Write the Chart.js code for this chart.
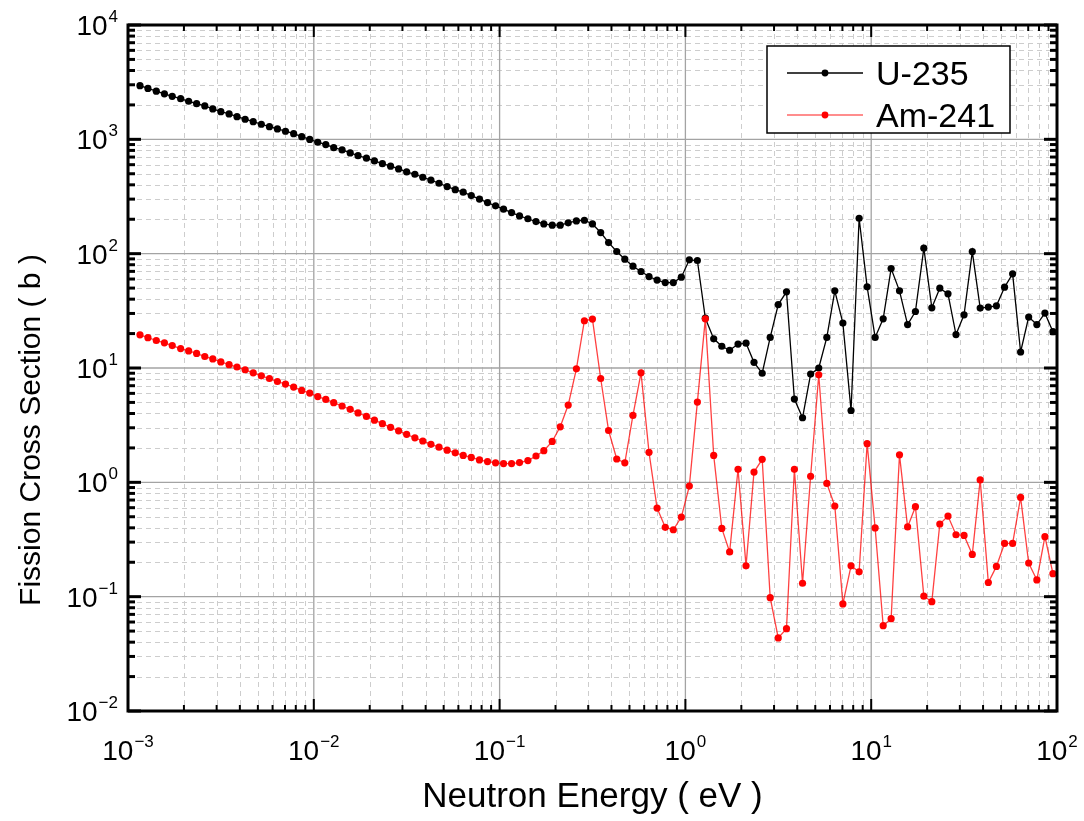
<!DOCTYPE html>
<html>
<head>
<meta charset="utf-8">
<script src="https://cdn.jsdelivr.net/npm/chart.js@4.4.1/dist/chart.umd.min.js"></script>
<style>
  body { margin: 0; background: #fff; }
  #wrap { width: 1084px; height: 821px; position: relative; }
</style>
</head>
<body>
<div id="wrap"><canvas id="chart"></canvas></div>
<script>
const energy = [
  1.16e-3,1.28e-3,1.42e-3,1.57e-3,1.73e-3,1.92e-3,2.12e-3,2.34e-3,2.59e-3,2.86e-3,3.16e-3,3.50e-3,3.86e-3,4.27e-3,4.72e-3,5.22e-3,5.77e-3,6.37e-3,7.04e-3,7.79e-3,8.61e-3,9.51e-3,
  0.0105,0.0116,0.0128,0.0142,0.0157,0.0173,0.0192,0.0212,0.0234,0.0259,0.0286,0.0316,0.0350,0.0386,0.0427,0.0472,0.0522,0.0577,0.0637,0.0704,0.0779,0.0861,0.0951,
  0.105,0.116,0.128,0.142,0.157,0.173,0.192,0.212,0.234,0.259,0.286,0.316,0.350,0.386,0.427,0.472,0.522,0.577,0.637,0.704,0.779,0.861,0.951,
  1.05,1.16,1.28,1.42,1.57,1.73,1.92,2.12,2.34,2.59,2.86,3.16,3.50,3.86,4.27,4.72,5.22,5.77,6.37,7.04,7.79,8.61,9.51,
  10.5,11.6,12.8,14.2,15.7,17.3,19.2,21.2,23.4,25.9,28.6,31.6,35.0,38.6,42.7,47.2,52.2,57.7,63.7,70.4,77.9,86.1,95.1
];

// fission cross sections (b)
const u235 = [
  2947,2785,2638,2499,2376,2269,2153,2052,1959,1844,1746,1667,1579,1499,1428,1355,1291,1233,1177,1121,1054,998,
  943,899,846,808,760,720,684,647,613,582,551,519,495,466,439,413,386,363,345,322,300,280,262,
  245,229,214,202,191,182,177.5,177.5,186,193.5,196,182,153,125,104.5,89.5,77.7,69.8,63.1,58.7,55.9,55.9,62.3,
  88.3,87.1,27.3,18.0,15.5,14.3,16.2,16.5,11.2,9.0,18.5,35.9,46.4,5.35,3.67,8.84,10.0,18.5,47.3,24.7,4.25,204,51.3,
  18.5,26.9,74.1,47.3,24.0,31.2,111.7,33.6,49.9,44.5,19.6,29.2,104.3,33.4,34.1,35.0,50.9,66.6,13.8,27.9,24.0,30.2,20.8
];
const am241 = [
  19.5,18.4,17.4,16.6,15.7,14.8,14.1,13.4,12.6,12.0,11.3,10.7,10.2,9.65,9.08,8.55,8.09,7.62,7.23,6.81,6.36,6.03,
  5.63,5.31,4.97,4.65,4.35,4.05,3.77,3.50,3.26,3.03,2.82,2.63,2.45,2.30,2.15,2.03,1.91,1.81,1.72,1.65,1.57,1.52,1.48,
  1.46,1.46,1.49,1.55,1.70,1.89,2.28,3.06,4.74,9.84,25.9,26.8,8.09,2.84,1.60,1.48,3.85,9.08,1.83,0.596,0.404,0.385,0.497,
  0.928,5.03,26.9,1.72,0.395,0.246,1.30,0.186,1.23,1.59,0.098,0.0436,0.0525,1.30,0.131,1.13,8.72,0.978,0.621,0.0864,0.186,0.165,2.18,
  0.399,0.0558,0.0642,1.74,0.407,0.612,0.101,0.0904,0.432,0.507,0.348,0.343,0.234,1.05,0.133,0.184,0.292,0.292,0.738,0.197,0.140,0.335,0.159
];

const xTicks = [1e-3, 1e-2, 1e-1, 1e0, 1e1, 1e2];
const yTicks = [1e-2, 1e-1, 1e0, 1e1, 1e2, 1e3, 1e4];
const seriesNames = ['U-235', 'Am-241'];

const FONT = '"Liberation Sans", Arial, sans-serif';

function expText(v) {
  const e = Math.round(Math.log10(v));
  return e < 0 ? '\u2212' + (-e) : String(e);
}

// minor values 2..9 x 10^n inside [min,max]
function minorValues(min, max) {
  const out = [];
  for (let d = Math.floor(Math.log10(min)); d < Math.log10(max); d++) {
    for (let m = 2; m <= 9; m++) out.push(m * Math.pow(10, d));
  }
  return out;
}

const framePlugin = {
  id: 'frame',
  beforeDatasetsDraw(chart) {
    const { ctx, chartArea: a, scales } = chart;
    const xs = scales.x, ys = scales.y;
    ctx.save();
    ctx.lineWidth = 1;
    // minor grid dashed
    ctx.strokeStyle = '#cdcdcd';
    ctx.setLineDash([5, 4]);
    minorValues(xs.min, xs.max).forEach(v => {
      const px = Math.round(xs.getPixelForValue(v)) + 0.5;
      ctx.beginPath(); ctx.moveTo(px, a.top); ctx.lineTo(px, a.bottom); ctx.stroke();
    });
    minorValues(ys.min, ys.max).forEach(v => {
      const py = Math.round(ys.getPixelForValue(v)) + 0.5;
      ctx.beginPath(); ctx.moveTo(a.left, py); ctx.lineTo(a.right, py); ctx.stroke();
    });
    // major grid solid
    ctx.setLineDash([]);
    ctx.strokeStyle = '#a3a3a3';
    ctx.lineWidth = 1.3;
    xTicks.forEach(v => {
      const px = xs.getPixelForValue(v);
      ctx.beginPath(); ctx.moveTo(px, a.top); ctx.lineTo(px, a.bottom); ctx.stroke();
    });
    yTicks.forEach(v => {
      const py = ys.getPixelForValue(v);
      ctx.beginPath(); ctx.moveTo(a.left, py); ctx.lineTo(a.right, py); ctx.stroke();
    });
    ctx.restore();
  },
  afterDatasetsDraw(chart) {
    const { ctx, chartArea: a, scales } = chart;
    const xs = scales.x, ys = scales.y;
    ctx.save();
    ctx.strokeStyle = '#000';
    // inward ticks, left/right
    ctx.lineWidth = 3;
    const yTickDraw = (v, len) => {
      const py = ys.getPixelForValue(v);
      ctx.beginPath(); ctx.moveTo(a.left, py); ctx.lineTo(a.left + len, py); ctx.stroke();
      ctx.beginPath(); ctx.moveTo(a.right, py); ctx.lineTo(a.right - len, py); ctx.stroke();
    };
    minorValues(ys.min, ys.max).forEach(v => yTickDraw(v, 7));
    yTicks.forEach(v => yTickDraw(v, 13));
    // inward ticks, bottom/top
    ctx.lineWidth = 2;
    const xTickDraw = (v, len) => {
      const px = xs.getPixelForValue(v);
      ctx.beginPath(); ctx.moveTo(px, a.bottom); ctx.lineTo(px, a.bottom - len); ctx.stroke();
      ctx.beginPath(); ctx.moveTo(px, a.top); ctx.lineTo(px, a.top + len); ctx.stroke();
    };
    minorValues(xs.min, xs.max).forEach(v => xTickDraw(v, 6));
    xTicks.forEach(v => xTickDraw(v, 12));
    // frame
    ctx.lineWidth = 3;
    ctx.strokeRect(a.left, a.top, a.right - a.left, a.bottom - a.top);

    // tick labels 10^n
    ctx.fillStyle = '#000';
    ctx.textBaseline = 'alphabetic';
    ctx.textAlign = 'left';
    const big = '28px ' + FONT, small = '17px ' + FONT;
    const measure = (e) => {
      ctx.font = big; const w1 = ctx.measureText('10').width;
      ctx.font = small; const w2 = ctx.measureText(e).width;
      return [w1, w2];
    };
    const drawPow = (e, left, base) => {
      const [w1] = measure(e);
      ctx.font = big; ctx.fillText('10', left, base);
      ctx.font = small; ctx.fillText(e, left + w1 + 1, base - 13);
    };
    xTicks.forEach(v => {
      const e = expText(v);
      const [w1, w2] = measure(e);
      const px = xs.getPixelForValue(v);
      drawPow(e, px - (w1 + w2 + 1) / 2, 760);
    });
    yTicks.forEach(v => {
      const e = expText(v);
      const [w1, w2] = measure(e);
      const py = ys.getPixelForValue(v);
      drawPow(e, 118 - (w1 + w2 + 1), py + 10);
    });

    // axis titles
    ctx.textAlign = 'center';
    ctx.textBaseline = 'middle';
    ctx.font = '35px ' + FONT;
    ctx.fillText('Neutron Energy ( eV )', (a.left + a.right) / 2, 797);
    ctx.font = '30px ' + FONT;
    ctx.save();
    ctx.translate(32, 430);
    ctx.rotate(-Math.PI / 2);
    ctx.fillText('Fission Cross Section ( b )', 0, 0);
    ctx.restore();

    // legend box
    ctx.fillStyle = '#fff';
    ctx.fillRect(767, 46, 243, 87);
    ctx.lineWidth = 1.5;
    ctx.strokeStyle = '#000';
    ctx.strokeRect(767, 46, 243, 87);
    const rows = [
      { y: 73, line: '#000', dot: '#000' },
      { y: 115, line: 'rgba(255,0,0,0.6)', dot: '#ff0000' }
    ];
    rows.forEach((r, i) => {
      ctx.strokeStyle = r.line;
      ctx.lineWidth = 1.5;
      ctx.beginPath(); ctx.moveTo(787, r.y); ctx.lineTo(863, r.y); ctx.stroke();
      ctx.fillStyle = r.dot;
      ctx.beginPath(); ctx.arc(825, r.y, 3.4, 0, Math.PI * 2); ctx.fill();
      ctx.fillStyle = '#000';
      ctx.font = '34px ' + FONT;
      ctx.textAlign = 'left';
      ctx.textBaseline = 'alphabetic';
      ctx.fillText(seriesNames[i], 876, r.y + 12);
    });
    ctx.restore();
  }
};

new Chart(document.getElementById('chart'), {
  type: 'line',
  data: {
    datasets: [
      {
        label: seriesNames[0],
        data: energy.map((e, i) => ({ x: e, y: u235[i] })),
        borderColor: '#000',
        backgroundColor: '#000',
        borderWidth: 1.3,
        pointRadius: 3.6,
        pointBorderWidth: 0,
        pointBackgroundColor: '#000',
        order: 1
      },
      {
        label: seriesNames[1],
        data: energy.map((e, i) => ({ x: e, y: am241[i] })),
        borderColor: 'rgba(255,0,0,0.75)',
        backgroundColor: '#ff0000',
        borderWidth: 1.3,
        pointRadius: 3.6,
        pointBorderWidth: 0,
        pointBackgroundColor: '#ff0000',
        order: 0
      }
    ]
  },
  options: {
    responsive: true,
    maintainAspectRatio: false,
    animation: false,
    layout: { padding: { left: 128, right: 27, top: 25, bottom: 110 } },
    plugins: { legend: { display: false }, tooltip: { enabled: false } },
    scales: {
      x: { type: 'logarithmic', min: 1e-3, max: 1e2, display: false },
      y: { type: 'logarithmic', min: 1e-2, max: 1e4, display: false }
    }
  },
  plugins: [framePlugin]
});
</script>
</body>
</html>
